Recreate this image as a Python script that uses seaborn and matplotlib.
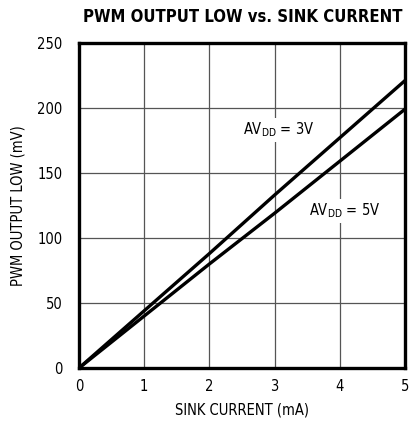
import seaborn as sns
import matplotlib.pyplot as plt
import pandas as pd

# Values
sink_current = [0, 1, 2, 3, 4, 5]
out_low_3v = [0, 44, 88, 133, 177, 221]
out_low_5v = [0, 40, 80, 119, 159, 199]

df = pd.DataFrame({
    'current': sink_current * 2,
    'mv': out_low_3v + out_low_5v,
    'supply': ['3V'] * 6 + ['5V'] * 6,
})

sns.set_style('white')
plt.rcParams['font.family'] = ['DejaVu Sans']
plt.rcParams['font.stretch'] = 'condensed'
plt.rcParams['text.color'] = 'black'
plt.rcParams['axes.labelcolor'] = 'black'
plt.rcParams['xtick.color'] = 'black'
plt.rcParams['ytick.color'] = 'black'

fig = plt.figure(figsize=(4.09, 4.29), dpi=100)
ax = fig.add_axes([0.193, 0.142, 0.797, 0.758])

sns.lineplot(data=df, x='current', y='mv', units='supply', estimator=None,
             color='black', linewidth=2.4, ax=ax, legend=False)

ax.set_xlim(0, 5)
ax.set_ylim(0, 250)
ax.set_xticks(range(0, 6))
ax.set_yticks(range(0, 251, 50))
ax.grid(True, color='#555555', linewidth=0.9)
ax.tick_params(axis='x', length=0, labelsize=10.5, pad=8)
ax.tick_params(axis='y', length=0, labelsize=10.5, pad=12)
for s in ax.spines.values():
    s.set_linewidth(2.4)
    s.set_color('black')

ax.set_xlabel('SINK CURRENT (mA)', fontsize=10.5, labelpad=6)
ax.set_ylabel('PWM OUTPUT LOW (mV)', fontsize=10.5, labelpad=8)

box = dict(facecolor='white', edgecolor='none', pad=2)
ax.text(2.52, 183, 'AV$_{\\mathregular{DD}}$ = 3V', fontsize=10.5, va='center', ha='left', bbox=box)
ax.text(3.53, 121, 'AV$_{\\mathregular{DD}}$ = 5V', fontsize=10.5, va='center', ha='left', bbox=box)

fig.text(0.593, 0.96, 'PWM OUTPUT LOW vs. SINK CURRENT', fontsize=12,
         fontweight='bold', ha='center', va='center')

fig.savefig('out.png', dpi=100)
